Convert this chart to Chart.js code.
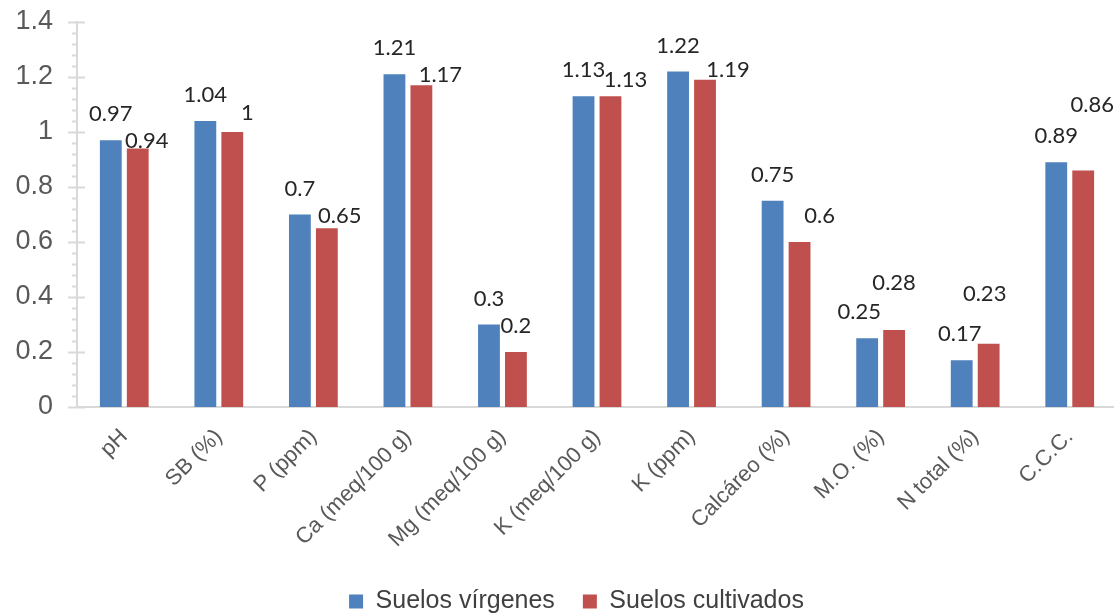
<!DOCTYPE html>
<html lang="es">
<head>
<meta charset="UTF-8">
<title>Suelos vírgenes vs. suelos cultivados</title>
<script src="https://cdn.jsdelivr.net/npm/chart.js"></script>
<style>
    html, body { margin: 0; padding: 0; background: #fff; overflow: hidden; }
    .wrap { width: 1120px; height: 615px; }
</style>
</head>
<body>
<div class="wrap"><canvas id="soilChart" width="1120" height="615"></canvas></div>
<script>
const categories = ['pH', 'SB (%)', 'P (ppm)', 'Ca (meq/100 g)', 'Mg (meq/100 g)', 'K (meq/100 g)',
                    'K (ppm)', 'Calcáreo (%)', 'M.O. (%)', 'N total (%)', 'C.C.C.'];
const suelosVirgenes = [0.97, 1.04, 0.7, 1.21, 0.3, 1.13, 1.22, 0.75, 0.25, 0.17, 0.89];
const suelosCultivados = [0.94, 1, 0.65, 1.17, 0.2, 1.13, 1.19, 0.6, 0.28, 0.23, 0.86];
const yTicks = [0, 0.2, 0.4, 0.6, 0.8, 1, 1.2, 1.4];

// desplazamiento manual de las etiquetas (px), como quedaron en el Excel
const shiftVirgenes = [[0,0],[0,0],[0,0],[0,0],[0,0],[0,0],[0,0],[0,0],[-8,0],[-2,0],[0,0]];
const shiftCultivados = [[9,18],[15,7],[13,14],[19,16],[0,0],[15,10],[23,16],[20,0],[0,-21],[-4,-24],[9,-40]];

const AXIS_GREY = '#d9d9d9';

// etiquetas de valor encima de las barras
const valueLabels = {
    id: 'valueLabels',
    afterDatasetsDraw(chart) {
        const ctx = chart.ctx;
        ctx.save();
        ctx.font = '22px Lato';
        ctx.fillStyle = '#262626';
        ctx.textAlign = 'center';
        ctx.textBaseline = 'middle';
        [shiftVirgenes, shiftCultivados].forEach((shift, d) => {
            chart.getDatasetMeta(d).data.forEach((bar, i) => {
                const v = chart.data.datasets[d].data[i];
                ctx.fillText(String(v), bar.x + shift[i][0], bar.y - 26 + shift[i][1]);
            });
        });
        ctx.restore();
    }
};

// marcas principales y secundarias del eje Y
const yTickMarks = {
    id: 'yTickMarks',
    afterDraw(chart) {
        const ctx = chart.ctx;
        const y = chart.scales.y;
        const x0 = chart.chartArea.left;
        ctx.save();
        ctx.strokeStyle = AXIS_GREY;
        ctx.lineWidth = 2;
        for (let i = 0; i <= 35; i++) {
            const py = Math.round(y.getPixelForValue(i * 0.04)) + 0.5;
            ctx.beginPath();
            if (i % 5 === 0) {
                ctx.moveTo(x0 - 9, py);
                ctx.lineTo(x0 + 8, py);
            } else {
                ctx.moveTo(x0 - 5, py);
                ctx.lineTo(x0, py);
            }
            ctx.stroke();
        }
        ctx.restore();
    }
};

// la leyenda del original no queda centrada en el lienzo
const nudgeLegend = {
    id: 'nudgeLegend',
    afterLayout(chart) {
        const l = chart.legend;
        l.left += 18; l.right += 18;
        l.top += 9; l.bottom += 9;
    }
};

new Chart(document.getElementById('soilChart'), {
    type: 'bar',
    data: {
        labels: categories,
        datasets: [
            { label: 'Suelos vírgenes', data: suelosVirgenes, backgroundColor: '#4f81bd',
              categoryPercentage: 0.57, barPercentage: 0.81 },
            { label: 'Suelos cultivados', data: suelosCultivados, backgroundColor: '#c0504d',
              categoryPercentage: 0.57, barPercentage: 0.81 }
        ]
    },
    options: {
        responsive: false,
        animation: false,
        layout: { padding: { left: 0, right: 3, top: 22, bottom: 0 } },
        plugins: {
            legend: {
                position: 'bottom',
                labels: {
                    font: { family: 'Liberation Sans', size: 25 },
                    color: '#404040',
                    boxWidth: 14,
                    boxHeight: 14,
                    padding: 28
                }
            },
            tooltip: { enabled: false }
        },
        scales: {
            x: {
                grid: { display: false },
                border: { color: AXIS_GREY, width: 2 },
                ticks: {
                    minRotation: 45,
                    maxRotation: 45,
                    padding: 9,
                    color: '#595959',
                    font: { family: 'Liberation Sans', size: 22 }
                },
                afterFit: s => { s.height = 145; }
            },
            y: {
                min: 0,
                max: 1.4,
                afterBuildTicks: s => { s.ticks = yTicks.map(v => ({ value: v })); },
                grid: { display: false },
                border: { color: AXIS_GREY, width: 2 },
                ticks: {
                    padding: 16,
                    color: '#595959',
                    font: { family: 'Liberation Sans', size: 27 },
                    callback: v => String(+Number(v).toFixed(1))
                },
                afterFit: s => { s.width = 77; s.paddingTop = 0; s.paddingBottom = 0; }
            }
        }
    },
    plugins: [valueLabels, yTickMarks, nudgeLegend]
});
</script>
</body>
</html>
